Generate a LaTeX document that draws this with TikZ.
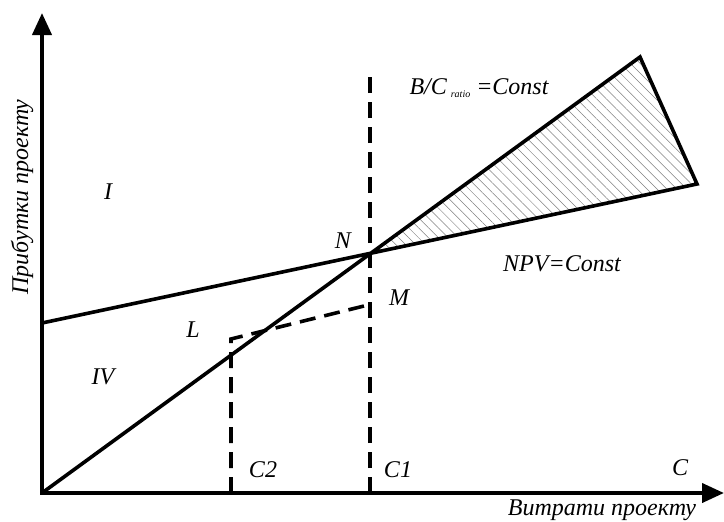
\documentclass[tikz,border=0pt]{standalone}
\usepackage{fontspec}
\setmainfont{Liberation Serif}
\usetikzlibrary{arrows.meta, patterns.meta}

\begin{document}
\begin{tikzpicture}[x=1pt, y=-1pt,
  axis/.style={line width=4pt, -{Triangle[length=22pt, width=19pt]}},
  curve/.style={line width=3.6pt, line join=miter},
  guide/.style={line width=3.6pt, dash pattern=on 16pt off 9pt},
  lbl/.style={font=\fontsize{24}{28}\selectfont\itshape, inner sep=0pt},
  hatch/.style={pattern={Lines[angle=-45, distance=7pt, line width=0.5pt]}, pattern color=gray},
]
  \useasboundingbox (0,0) rectangle (724,522);
  % axes corner and ends
  \coordinate (O) at (42,493);
  \coordinate (Ytop) at (42,13);
  \coordinate (Xend) at (724,493);
  % B/C line O--T, NPV line P--R
  \coordinate (T) at (640,57);
  \coordinate (R) at (697,184);
  \coordinate (P) at (42,323);
  \coordinate (N) at (intersection of O--T and P--R);
  % cost levels C1, C2
  \coordinate (C1b) at (370,493);
  \coordinate (C1t) at (370,75);
  \coordinate (C2b) at (231,493);
  \coordinate (Lc) at (231,339);
  \coordinate (M) at (368,305);
  % hatched region
  \fill[hatch] (N) -- (T) -- (R) -- cycle;
  % dashed guides
  \draw[guide] (C1b) -- (C1t);
  \draw[guide] (C2b) -- (Lc) -- (M);
  % main lines
  \draw[curve] (O) -- (T) -- (R) -- (P);
  % axes
  \draw[axis] ([yshift=2pt]O) -- (Ytop);
  \draw[axis] ([xshift=-2pt]O) -- (Xend);
  % labels
  \node[lbl] (bc) at (479,88) {B/C\,\raisebox{-3pt}{\fontsize{10}{10}\selectfont ratio} =Const};
  \node[lbl] (npv) at (562,264) {NPV=Const};
  \node[lbl] (n) at (343,241) {N};
  \node[lbl] (m) at (399,298) {M};
  \node[lbl] (l) at (193,330) {L};
  \node[lbl] (r1) at (108,192) {I};
  \node[lbl] (r4) at (103,377) {IV};
  \node[lbl] (c2) at (263,470) {C2};
  \node[lbl] (c1) at (398,470) {C1};
  \node[lbl] (c) at (680,468) {C};
  \node[lbl, rotate=90] (ylab) at (22,197) {Прибутки проекту};
  \node[lbl] (xlab) at (602,510) {Витрати проекту};
\end{tikzpicture}
\end{document}
